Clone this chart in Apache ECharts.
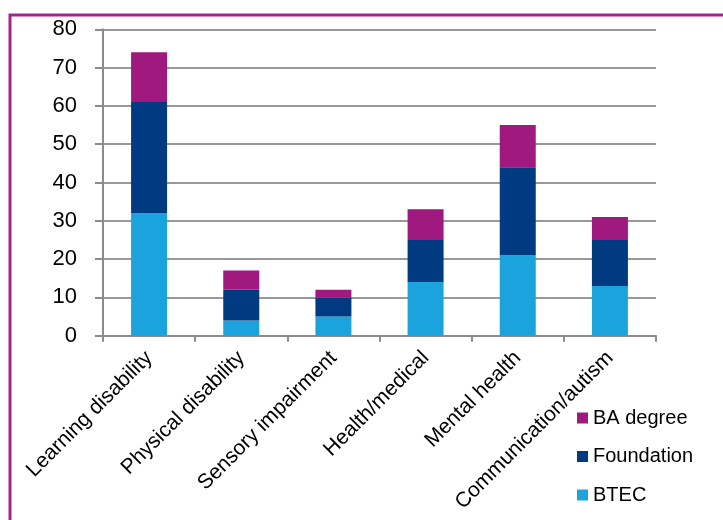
<!DOCTYPE html>
<html><head><meta charset="utf-8">
<script src="https://cdn.jsdelivr.net/npm/echarts@6/dist/echarts.min.js"></script>
<style>html,body{margin:0;padding:0;background:#fff}#c{width:723px;height:520px}</style>
</head><body><div id="c"></div>
<script>
const categories = ['Learning disability','Physical disability','Sensory impairment','Health/medical','Mental health','Communication/autism'];
const btec = [32, 4, 5, 14, 21, 13];
const foundation = [29, 8, 5, 11, 23, 12];
const baDegree = [13, 5, 2, 8, 11, 6];
const yTicks = [0, 10, 20, 30, 40, 50, 60, 70, 80];

const font = 'Liberation Sans, Arial, sans-serif';
const chart = echarts.init(document.getElementById('c'), null, {renderer: 'canvas'});
chart.setOption({
  animation: false,
  graphic: [{
    type: 'rect', left: 7.5, top: 12.5, z: 100, silent: true,
    shape: {x: 0, y: 0, width: 800, height: 600},
    style: {fill: 'none', stroke: '#A3248D', lineWidth: 3}
  }],
  grid: {left: 103, right: 67, top: 29.3, bottom: 184.3, containLabel: false},
  legend: {
    orient: 'vertical', left: 577, top: 408, itemWidth: 11, itemHeight: 11, itemGap: 18.5,
    padding: 0, height: 110,
    icon: 'rect',
    data: ['BA degree', 'Foundation', 'BTEC'],
    textStyle: {fontFamily: font, fontSize: 20, lineHeight: 20, color: '#000', padding: [0, 0, 0, 0]}
  },
  xAxis: {
    type: 'category', data: categories,
    axisLine: {lineStyle: {color: '#8c8c8c', width: 2}},
    axisTick: {show: true, length: 6, lineStyle: {color: '#8c8c8c', width: 2}},
    axisLabel: {rotate: 45, fontFamily: font, fontSize: 21, color: '#000', margin: 19, interval: 0}
  },
  yAxis: {
    type: 'value', min: yTicks[0], max: yTicks[yTicks.length - 1], interval: 10,
    axisLine: {show: true, lineStyle: {color: '#8c8c8c', width: 2}},
    axisTick: {show: true, inside: false, length: 8, lineStyle: {color: '#8c8c8c', width: 2}},
    splitLine: {lineStyle: {color: '#999999', width: 2}},
    axisLabel: {fontFamily: font, fontSize: 22, color: '#000', margin: 26}
  },
  series: [
    {name: 'BTEC', type: 'bar', stack: 's', data: btec, barWidth: 36, itemStyle: {color: '#1AA3DC'}},
    {name: 'Foundation', type: 'bar', stack: 's', data: foundation, barWidth: 36, itemStyle: {color: '#003A80'}},
    {name: 'BA degree', type: 'bar', stack: 's', data: baDegree, barWidth: 36, itemStyle: {color: '#A0197E'}}
  ]
});
</script></body></html>
